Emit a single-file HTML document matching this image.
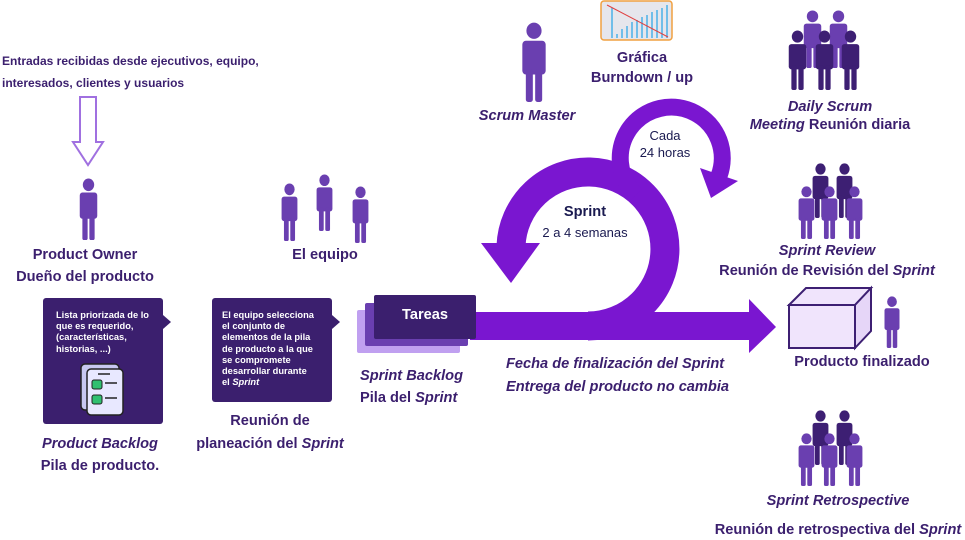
<!DOCTYPE html>
<html><head><meta charset="utf-8"><style>
body{margin:0;width:965px;height:540px;background:#fff;position:relative;overflow:hidden;font-family:"Liberation Sans",sans-serif;color:#3b1f6e}
.t{position:absolute;white-space:nowrap;font-size:14.6px;font-weight:bold;line-height:20px}
.c{transform:translateX(-50%);text-align:center}
.i{font-style:italic}
.n{font-weight:normal}
.w{color:#fff;font-size:9.3px;line-height:11.2px}
svg{position:absolute;left:0;top:0}
</style></head><body>
<svg width="965" height="540">
<defs>
<symbol id="p" viewBox="0 0 24 64" preserveAspectRatio="none">
<circle cx="12" cy="7" r="6.5"/>
<rect x="2" y="15" width="20" height="27" rx="3"/>
<rect x="5" y="38" width="6" height="26" rx="2"/>
<rect x="13" y="38" width="6" height="26" rx="2"/>
</symbol>
</defs>
<path d="M80 97 H96 V142 H103 L88 165 L73 142 H80 Z" fill="#fff" stroke="#a070e0" stroke-width="2"/>
<use href="#p" x="78" y="178" width="21" height="62" fill="#6a3fb0"/>
<use href="#p" x="280" y="183" width="19" height="58" fill="#6a3fb0"/>
<use href="#p" x="315" y="174" width="19" height="57" fill="#6a3fb0"/>
<use href="#p" x="351" y="186" width="19" height="57" fill="#6a3fb0"/>
<use href="#p" x="520" y="22" width="28" height="80" fill="#6a3fb0"/>
<rect x="601" y="1" width="71" height="39" rx="3" fill="#e6e6ec" stroke="#f0a040" stroke-width="1.5"/>
<g stroke="#4ab0e8" stroke-width="1.5">
<line x1="612" y1="38" x2="612" y2="8"/><line x1="617" y1="38" x2="617" y2="34"/><line x1="622" y1="38" x2="622" y2="29"/><line x1="627" y1="38" x2="627" y2="26"/><line x1="632" y1="38" x2="632" y2="22"/><line x1="637" y1="38" x2="637" y2="20"/><line x1="642" y1="38" x2="642" y2="17"/><line x1="647" y1="38" x2="647" y2="15"/><line x1="652" y1="38" x2="652" y2="12"/><line x1="657" y1="38" x2="657" y2="10"/><line x1="662" y1="38" x2="662" y2="8"/><line x1="667" y1="38" x2="667" y2="5"/>
</g>
<line x1="607" y1="5" x2="668" y2="37" stroke="#e04040" stroke-width="1"/>
<use href="#p" x="802" y="10" width="21" height="58" fill="#6a3fb0"/>
<use href="#p" x="828" y="10" width="21" height="58" fill="#6a3fb0"/>
<use href="#p" x="787" y="30" width="21" height="60" fill="#3d1f73"/>
<use href="#p" x="814" y="30" width="21" height="60" fill="#3d1f73"/>
<use href="#p" x="840" y="30" width="21" height="60" fill="#3d1f73"/>
<use href="#p" x="811" y="163" width="19" height="55" fill="#3d1f73"/>
<use href="#p" x="835" y="163" width="19" height="55" fill="#3d1f73"/>
<use href="#p" x="797" y="186" width="19" height="53" fill="#6a3fb0"/>
<use href="#p" x="820" y="186" width="19" height="53" fill="#6a3fb0"/>
<use href="#p" x="845" y="186" width="19" height="53" fill="#6a3fb0"/>
<use href="#p" x="811" y="410" width="19" height="55" fill="#3d1f73"/>
<use href="#p" x="835" y="410" width="19" height="55" fill="#3d1f73"/>
<use href="#p" x="797" y="433" width="19" height="53" fill="#6a3fb0"/>
<use href="#p" x="820" y="433" width="19" height="53" fill="#6a3fb0"/>
<use href="#p" x="845" y="433" width="19" height="53" fill="#6a3fb0"/>
<use href="#p" x="883" y="296" width="18" height="52" fill="#6a3fb0"/>
<polygon points="789,305 806,288 871,288 855,305" fill="#f0e4fc" stroke="#3d1f73" stroke-width="2"/>
<polygon points="855,305 871,288 871,331 855,348" fill="#e6d6f8" stroke="#3d1f73" stroke-width="2"/>
<rect x="789" y="305" width="66" height="43" fill="#f0e4fc" stroke="#3d1f73" stroke-width="2"/>
<path d="M588 326 A77 77 0 1 0 511 246" fill="none" stroke="#7a16d0" stroke-width="29"/>
<polygon points="481,243 540,243 511,283" fill="#7a16d0"/>
<path d="M636 195 A51 51 0 1 1 719 176" fill="none" stroke="#7a16d0" stroke-width="17"/>
<polygon points="700,168 738,181 711,198" fill="#7a16d0"/>
<rect x="470" y="312" width="282" height="28" fill="#7a16d0"/>
<polygon points="749,299 776,327 749,353" fill="#7a16d0"/>
<rect x="357" y="310" width="103" height="43" rx="2" fill="#c0a0f0"/>
<rect x="365" y="303" width="103" height="43" rx="2" fill="#6a3fb0"/>
<rect x="374" y="295" width="102" height="44" rx="2" fill="#3b1f6e"/>
<rect x="43" y="298" width="120" height="126" rx="3" fill="#3b1f6e"/>
<polygon points="163,315 171,322 163,329" fill="#3b1f6e"/>
<rect x="212" y="298" width="120" height="104" rx="3" fill="#3b1f6e"/>
<polygon points="332,315 340,322 332,329" fill="#3b1f6e"/>
<rect x="81" y="364" width="38" height="46" rx="4" fill="#c8c8f0" stroke="#222" stroke-width="1.5"/>
<rect x="87" y="369" width="36" height="46" rx="4" fill="#e8e8ff" stroke="#222" stroke-width="1.5"/>
<rect x="92" y="380" width="10" height="9" rx="2" fill="#30c070" stroke="#222"/>
<rect x="92" y="395" width="10" height="9" rx="2" fill="#30c070" stroke="#222"/>
<g stroke="#222" stroke-width="1.5"><line x1="105" y1="383" x2="117" y2="383"/><line x1="105" y1="398" x2="117" y2="398"/><line x1="98" y1="374" x2="110" y2="374"/></g>
</svg>

<div class="t" style="left:2px;top:51px;font-size:12px">Entradas recibidas desde ejecutivos, equipo,</div>
<div class="t" style="left:2px;top:73px;font-size:12px">interesados, clientes y usuarios</div>
<div class="t c" style="left:85px;top:245px">Product Owner</div>
<div class="t c" style="left:85px;top:267px">Dueño del producto</div>
<div class="t c" style="left:325px;top:245px">El equipo</div>
<div class="t w" style="left:56px;top:310px">Lista priorizada de lo<br>que es requerido,<br>(características,<br>historias, ...)</div>
<div class="t w" style="left:222px;top:310px">El equipo selecciona<br>el conjunto de<br>elementos de la pila<br>de producto a la que<br>se compromete<br>desarrollar durante<br>el <i>Sprint</i></div>
<div class="t c i" style="left:100px;top:434px">Product Backlog</div>
<div class="t c" style="left:100px;top:456px">Pila de producto.</div>
<div class="t c" style="left:270px;top:411px">Reunión de</div>
<div class="t c" style="left:270px;top:434px">planeación del <i>Sprint</i></div>
<div class="t c" style="left:425px;top:305px;color:#fff">Tareas</div>
<div class="t i" style="left:360px;top:366px">Sprint Backlog</div>
<div class="t" style="left:360px;top:388px">Pila del <i>Sprint</i></div>
<div class="t c" style="left:642px;top:48px">Gráfica</div>
<div class="t c" style="left:642px;top:68px">Burndown / up</div>
<div class="t c i" style="left:527px;top:106px">Scrum Master</div>
<div class="t c i" style="left:830px;top:97px">Daily Scrum</div>
<div class="t c" style="left:830px;top:115px"><i>Meeting</i> Reunión diaria</div>
<div class="t c i" style="left:827px;top:241px">Sprint Review</div>
<div class="t c" style="left:827px;top:261px">Reunión de Revisión del <i>Sprint</i></div>
<div class="t c" style="left:862px;top:352px">Producto finalizado</div>
<div class="t i" style="left:506px;top:354px">Fecha de finalización del Sprint</div>
<div class="t i" style="left:506px;top:377px">Entrega del producto no cambia</div>
<div class="t c i" style="left:838px;top:491px">Sprint Retrospective</div>
<div class="t c" style="left:838px;top:520px">Reunión de retrospectiva del <i>Sprint</i></div>
<div class="t c" style="left:585px;top:202px;color:#1a1a50">Sprint</div>
<div class="t c n" style="left:585px;top:223px;color:#1a1a50;font-size:13px">2 a 4 semanas</div>
<div class="t c n" style="left:665px;top:126px;color:#1a1a50;font-size:13px">Cada</div>
<div class="t c n" style="left:665px;top:143px;color:#1a1a50;font-size:13px">24 horas</div>
</body></html>
